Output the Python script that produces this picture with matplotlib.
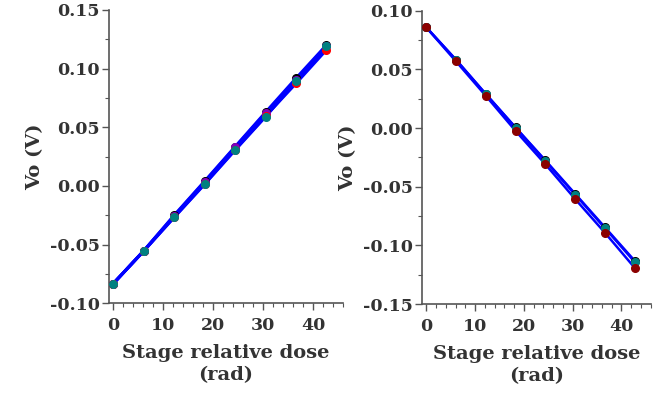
import numpy as np
import matplotlib
matplotlib.use("Agg")
import matplotlib.pyplot as plt
from matplotlib.ticker import MultipleLocator

plt.rcParams['font.family'] = ['DejaVu Serif']
plt.rcParams['font.weight'] = 'bold'
plt.rcParams['axes.labelweight'] = 'bold'

dose = [0, 6.1, 12.2, 18.3, 24.4, 30.5, 36.6, 42.7]

# left panel: several runs, rising
left_black = [-0.0832, -0.0553, -0.0250, 0.0040, 0.0334, 0.0627, 0.0917, 0.1200]
left_purple = [-0.0832, -0.0553, -0.0255, 0.0035, 0.0328, 0.0620, 0.0905, 0.1190]
left_red = [-0.0832, -0.0555, -0.0265, 0.0018, 0.0310, 0.0595, 0.0874, 0.1160]
left_teal = [-0.0832, -0.0553, -0.0268, 0.0015, 0.0305, 0.0590, 0.0890, 0.1195]

# right panel: several runs, falling
right_black = [0.0858, 0.0580, 0.0290, 0.0005, -0.0275, -0.0560, -0.0845, -0.1130]
right_teal = [0.0858, 0.0582, 0.0289, 0.0003, -0.0280, -0.0566, -0.0852, -0.1140]
right_red = [0.0858, 0.0568, 0.0275, -0.0024, -0.0308, -0.0604, -0.0891, -0.1190]

text_col = '#333333'
spine_col = '#555555'

fig = plt.figure(figsize=(6.62, 3.95), dpi=100)
ax1 = fig.add_axes([0.165, 0.232, 0.353, 0.743])
ax2 = fig.add_axes([0.638, 0.230, 0.345, 0.743])

def style(ax, ylo, yhi):
    ax.set_xlim(-0.8, 46)
    ax.set_ylim(ylo, yhi)
    ax.xaxis.set_major_locator(MultipleLocator(10))
    ax.xaxis.set_minor_locator(MultipleLocator(2))
    ax.yaxis.set_major_locator(MultipleLocator(0.05))
    ax.yaxis.set_minor_locator(MultipleLocator(0.025))
    ax.yaxis.set_major_formatter(matplotlib.ticker.FormatStrFormatter('%.2f'))
    for side in ['top', 'right']:
        ax.spines[side].set_visible(False)
    for side in ['left', 'bottom']:
        ax.spines[side].set_color(spine_col)
        ax.spines[side].set_linewidth(1.2)
    ax.tick_params(which='major', length=5, width=1, colors=spine_col,
                   labelcolor=text_col, labelsize=12.5, pad=2)
    ax.tick_params(axis='x', which='major', pad=5)
    ax.tick_params(which='minor', length=3, width=0.8, colors=spine_col)
    ax.set_xlabel('Stage relative dose\n(rad)', fontsize=14, color=text_col,
                  labelpad=7, linespacing=1.3)
    ax.set_ylabel('Vo (V)', fontsize=14, color=text_col, labelpad=4)

for ys, c in [(left_black, 'black'), (left_purple, '#8000c0'),
              (left_red, 'red'), (left_teal, '#008080')]:
    ax1.plot(dose, ys, '-', color='blue', lw=2.2, zorder=2)
    ax1.plot(dose, ys, 'o', color=c, ms=5.5, zorder=3)
style(ax1, -0.10, 0.15)

for ys, c in [(right_black, 'black'), (right_teal, '#008080'),
              (right_red, '#8b0000')]:
    ax2.plot(dose, ys, '-', color='blue', lw=1.8, zorder=2)
    ax2.plot(dose, ys, 'o', color=c, ms=5.5, zorder=3)
style(ax2, -0.15, 0.10)

fig.savefig('out.png', dpi=100)
